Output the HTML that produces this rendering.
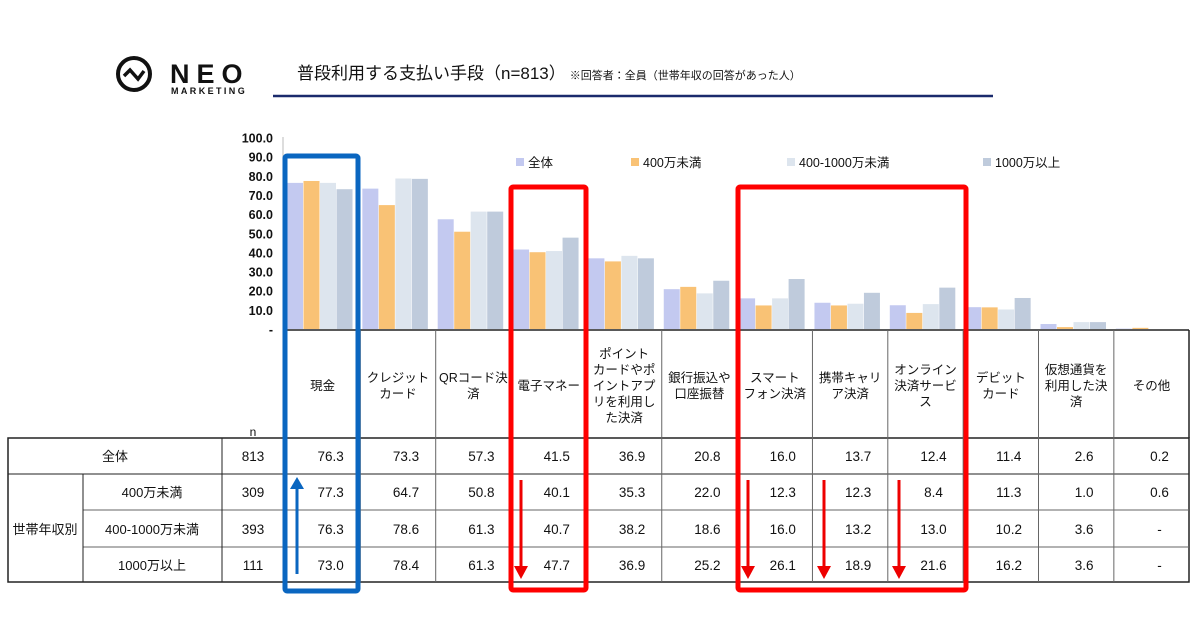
<!DOCTYPE html>
<html><head><meta charset="utf-8"><style>
body{margin:0;background:#fff;width:1200px;height:630px;overflow:hidden;font-family:"Liberation Sans","Noto Sans CJK JP",sans-serif;}
svg text{font-family:"Liberation Sans","Noto Sans CJK JP",sans-serif;fill:#111;}
</style></head><body>
<svg width="1200" height="630">
<g>
<circle cx="134" cy="74" r="16" fill="none" stroke="#111" stroke-width="4"/>
<polyline points="124,76 130,70 138,79 144,71" fill="none" stroke="#111" stroke-width="3.5"/>
<text x="170" y="83" font-size="27" font-weight="bold" letter-spacing="7">NEO</text>
<text x="171" y="94" font-size="9" font-weight="bold" letter-spacing="2.4">MARKETING</text>
</g>
<text x="297" y="79" font-size="17">普段利用する支払い手段（n=813）<tspan font-size="11" dx="4">※回答者：全員（世帯年収の回答があった人）</tspan></text>
<line x1="273" y1="96" x2="993" y2="96" stroke="#1a2a6c" stroke-width="2.5"/>
<g id="yaxis"></g>
<g id="bars"></g>
<g id="legend"></g>
<g id="table"></g>
<g id="hl"></g>
</svg>
<script>
const categories=[["現金"],["クレジット","カード"],["QRコード決","済"],["電子マネー"],["ポイント","カードやポ","イントアプ","リを利用し","た決済"],["銀行振込や","口座振替"],["スマート","フォン決済"],["携帯キャリ","ア決済"],["オンライン","決済サービ","ス"],["デビット","カード"],["仮想通貨を","利用した決","済"],["その他"]];
const seriesNames=["全体","400万未満","400-1000万未満","1000万以上"];
const seriesN=["813","309","393","111"];
const sAll=[76.3,73.3,57.3,41.5,36.9,20.8,16.0,13.7,12.4,11.4,2.6,0.2];
const sLow=[77.3,64.7,50.8,40.1,35.3,22.0,12.3,12.3,8.4,11.3,1.0,0.6];
const sMid=[76.3,78.6,61.3,40.7,38.2,18.6,16.0,13.2,13.0,10.2,3.6,null];
const sHigh=[73.0,78.4,61.3,47.7,36.9,25.2,26.1,18.9,21.6,16.2,3.6,null];
const yTicks=[0,10,20,30,40,50,60,70,80,90,100];
const series=[sAll,sLow,sMid,sHigh];
const colors=["#c3c9f0","#f9c275","#dde5ee","#bfcbdc"];
const NS="http://www.w3.org/2000/svg";
const X0=285,CW=75.35,Y0=329,YS=1.915;
const y=v=>Y0-v*YS;const cx=i=>X0+i*CW;
function mk(p,t,a){const e=document.createElementNS(NS,t);for(const k in a)e.setAttribute(k,a[k]);document.getElementById(p).appendChild(e);return e;}
function tx(p,x,yy,s,o){const e=mk(p,"text",Object.assign({x:x,y:yy,"font-size":12,"text-anchor":"middle"},o||{}));e.textContent=s;return e;}
mk("yaxis","line",{x1:283,y1:137,x2:283,y2:329,stroke:"#bbb"});
yTicks.forEach(t=>{const e=tx("yaxis",273,y(t)+5,t===0?"-":t.toFixed(1),{"text-anchor":"end","font-size":12.5,"font-weight":"bold"});

});
series.forEach((s,si)=>s.forEach((v,i)=>{if(v==null)return;const r=mk("bars","rect",{x:cx(i)+2+si*16.5,y:y(v),width:16,height:v*YS,fill:colors[si]});

}));
const lx=[516,631,787,983];
seriesNames.forEach((n,i)=>{const r=mk("legend","rect",{x:lx[i],y:158,width:8,height:8,fill:colors[i]});


const t=tx("legend",lx[i]+12,167,n,{"text-anchor":"start","font-size":12.5});

});
const L="#222";
mk("table","line",{x1:283,y1:330,x2:1189,y2:330,stroke:L,"stroke-width":1.5});
mk("table","rect",{x:8,y:438,width:1181,height:144,fill:"none",stroke:L,"stroke-width":1.5});
mk("table","line",{x1:1189,y1:330,x2:1189,y2:438,stroke:L,"stroke-width":1.5});
mk("table","line",{x1:8,y1:474,x2:1189,y2:474,stroke:L});
[510,547].forEach(v=>mk("table","line",{x1:83,y1:v,x2:1189,y2:v,stroke:"#666"}));
mk("table","line",{x1:83,y1:474,x2:83,y2:582,stroke:L});
mk("table","line",{x1:222,y1:438,x2:222,y2:582,stroke:L});
for(let i=0;i<12;i++){mk("table","line",{x1:cx(i),y1:330,x2:cx(i),y2:582,stroke:i==0?L:"#666"});}
tx("table",253,436,"n",{"font-size":12});
categories.forEach((c,i)=>{const h=c.length*16;c.forEach((l,j)=>{const t=tx("table",cx(i)+CW/2,386-h/2+12+j*16,l,{"font-size":12.5});

});});
const rowY=[456,492,529,565];
tx("table",115,461,"全体",{"font-size":13});
tx("table",45,534,"世帯年収別",{"font-size":13});
seriesNames.slice(1).forEach((n,k)=>tx("table",152,rowY[k+1]+5,n,{"font-size":13}));
seriesN.forEach((n,k)=>tx("table",253,rowY[k]+5,n,{"font-size":13.5}));
series.forEach((s,k)=>s.forEach((v,i)=>{const t=tx("table",cx(i)+CW/2+8,rowY[k]+5,v==null?"-":v.toFixed(1),{"font-size":13.5});

}));
mk("hl","rect",{x:285,y:156,width:73,height:435,fill:"none",stroke:"#0a66c0","stroke-width":5,rx:2});
mk("hl","rect",{x:511,y:187,width:75,height:403,fill:"none",stroke:"#ff0000","stroke-width":5,rx:2});
mk("hl","rect",{x:738,y:187,width:228,height:403,fill:"none",stroke:"#ff0000","stroke-width":5,rx:2});
mk("hl","line",{x1:297,y1:574,x2:297,y2:488,stroke:"#0a66c0","stroke-width":3});
mk("hl","polygon",{points:"290,489 304,489 297,477",fill:"#0a66c0"});
[521,748,824,899].forEach(ax=>{mk("hl","line",{x1:ax,y1:480,x2:ax,y2:568,stroke:"#e00","stroke-width":3});
mk("hl","polygon",{points:`${ax-7},566 ${ax+7},566 ${ax},579`,fill:"#e00"});});
</script>
</body></html>
